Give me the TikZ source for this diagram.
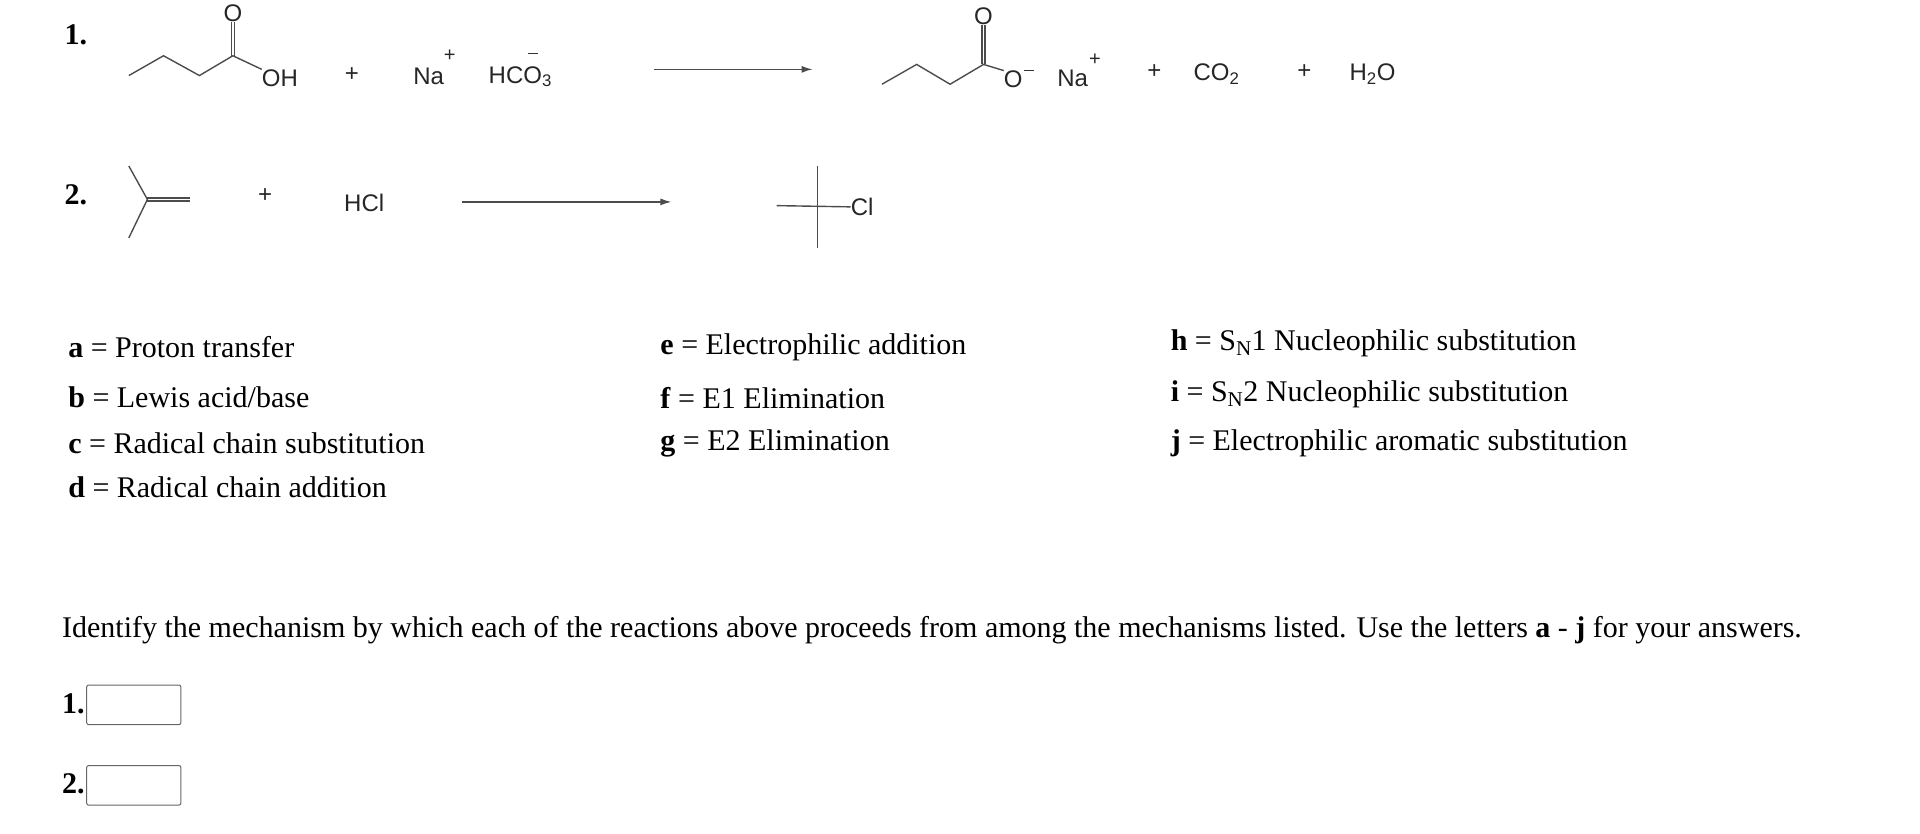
\documentclass[tikz,border=0pt]{standalone}
\usepackage{fontspec}
\setmainfont{Liberation Serif}
\newfontfamily\chemf{Liberation Sans}
\usetikzlibrary{arrows.meta}
\begin{document}
\begin{tikzpicture}[x=1.239pt,y=-1.239pt,
 txt/.style={anchor=west,inner sep=0pt,font=\fontsize{30}{33}\selectfont},
 btxt/.style={anchor=west,inner sep=0pt,font=\bfseries\fontsize{30}{33}\selectfont},
 chem/.style={inner sep=0pt,font=\chemf\fontsize{24}{26}\selectfont,text=black!85},
 sup/.style={inner sep=0pt,font=\chemf\fontsize{20}{22}\selectfont,text=black!85},
 minus/.style={line width=1.4pt,black!80},
 bond/.style={line width=1.4pt,black!70},
 rarrow/.style={line width=1.4pt,black!70,-{Latex[length=11pt,width=7pt]}},
 ansbox/.style={draw=black!60,line width=1pt,rounded corners=2pt}]
\useasboundingbox (0,0) rectangle (1550,673);
% labels
\node[btxt] (n1) at (52,28) {1.};
\node[btxt] (n2) at (52,157) {2.};
% reaction 1 reactant
\coordinate (a1) at (104,61); \coordinate (a2) at (132,45); \coordinate (a3) at (161,61); \coordinate (a4) at (188,45);
\node[chem] (aO) at (188,11) {O};
\node[chem] (aOH) at (226,63) {OH};
\draw[bond] (a1)--(a2)--(a3)--(a4)--(aOH.north west);
\draw[bond] ([xshift=-1.6]a4)--([xshift=-1.6]aO.south);
\draw[bond] ([xshift=1.6]a4)--([xshift=1.6]aO.south);
\node[chem] (p1) at (284,60) {+};
\node[chem] (na1) at (346,62) {Na};
\node[sup] (na1p) at (363,45) {+};
\node[chem] (hco3) at (420,62) {HCO\textsubscript{3}};
\coordinate (m1a) at (426,43); \coordinate (m1b) at (434,43);
\draw[minus] (m1a)--(m1b);
\coordinate (r1s) at (528,56); \coordinate (r1e) at (656,56);
\draw[rarrow] (r1s)--(r1e);
% product 1
\coordinate (b1) at (712,68); \coordinate (b2) at (740,52); \coordinate (b3) at (767,68); \coordinate (b4) at (794,52);
\node[chem] (bO) at (794,13) {O};
\node[chem] (bOm) at (818,64) {O};
\coordinate (m2a) at (827,57); \coordinate (m2b) at (835,57);
\draw[minus] (m2a)--(m2b);
\draw[bond] (b1)--(b2)--(b3)--(b4)--(bOm.north west);
\draw[bond] ([xshift=-1.6]b4)--([xshift=-1.6]bO.south);
\draw[bond] ([xshift=1.6]b4)--([xshift=1.6]bO.south);
\node[chem] (na2) at (866,63) {Na};
\node[sup] (na2p) at (884,48) {+};
\node[chem] (p2) at (932,58) {+};
\node[chem] (co2) at (982,60) {CO\textsubscript{2}};
\node[chem] (p3) at (1053,58) {+};
\node[chem] (h2o) at (1108,60) {H\textsubscript{2}O};
% reaction 2
\coordinate (c1) at (104,134); \coordinate (c2) at (119,161); \coordinate (c3) at (104,192); \coordinate (c4) at (153,161);
\draw[bond] (c1)--(c2)--(c3);
\draw[bond] ([yshift=-1.6]c2)--([yshift=-1.6]c4);
\draw[bond] ([yshift=1.6]c2)--([yshift=1.6]c4);
\node[chem] (p4) at (214,158) {+};
\node[chem] (hcl) at (294,164) {HCl};
\coordinate (r2s) at (373,163); \coordinate (r2e) at (542,163);
\draw[rarrow] (r2s)--(r2e);
\coordinate (d1) at (660,134); \coordinate (d2) at (660,200); \coordinate (d3) at (627,166);
\node[chem] (cl) at (696,167) {Cl};
\draw[bond] (d1)--(d2);
\draw[bond] (d3)--(cl.west);
% legend
\node[txt] (la) at (55,280) {\textbf{a} = Proton transfer};
\node[txt] (lb) at (55,321) {\textbf{b} = Lewis acid/base};
\node[txt] (lc) at (55,358) {\textbf{c} = Radical chain substitution};
\node[txt] (ld) at (55,393) {\textbf{d} = Radical chain addition};
\node[txt] (le) at (533,280) {\textbf{e} = Electrophilic addition};
\node[txt] (lf) at (533,321) {\textbf{f} = E1 Elimination};
\node[txt] (lg) at (533,358) {\textbf{g} = E2 Elimination};
\node[txt] (lh) at (945,277) {\textbf{h} = S\textsubscript{N}1 Nucleophilic substitution};
\node[txt] (li) at (945,318) {\textbf{i} = S\textsubscript{N}2 Nucleophilic substitution};
\node[txt] (lj) at (945,358) {\textbf{j} = Electrophilic aromatic substitution};
\node[txt] (q) at (50,509) {Identify the mechanism by which each of the reactions above proceeds from among the mechanisms listed. Use the letters \textbf{a} - \textbf{j} for your answers.};
\node[btxt] (q1) at (50,568) {1.};
\draw[ansbox] (70,553) rectangle (146,585);
\node[btxt] (q2) at (50,633) {2.};
\draw[ansbox] (70,618) rectangle (146,650);
\end{tikzpicture}
\end{document}
